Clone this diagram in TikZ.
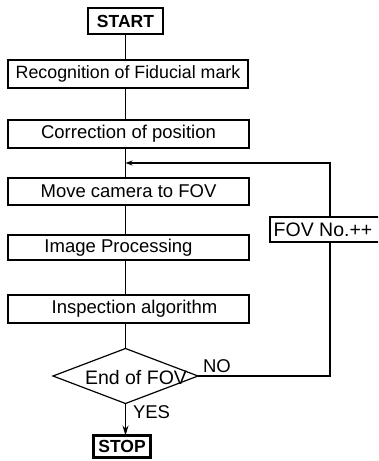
\documentclass[tikz,border=0pt]{standalone}
\usepackage{fontspec}
\setmainfont{Liberation Sans}
\usetikzlibrary{shapes.geometric,arrows.meta}
\begin{document}
\begin{tikzpicture}[x=1pt,y=-1pt,
  every node/.style={inner sep=0pt,outer sep=0pt},
  box/.style={draw,line width=1.2pt,minimum width=241pt,font=\fontsize{18.5}{20}\selectfont},
  term/.style={draw,line width=2.6pt,font=\bfseries\fontsize{17.5}{19}\selectfont},
  conn/.style={line width=1.2pt},
  lbl/.style={font=\fontsize{18.5}{20}\selectfont}]
\useasboundingbox (0,0) rectangle (378,461);
\clip (0,0) rectangle (378,461);
\coordinate (main) at (125.5,0);
\coordinate (lp) at (330,0);
\node[term,minimum width=75pt,minimum height=26pt] (start) at (125.5,21) {START};
\node[box,minimum width=240pt,minimum height=28pt,font=\fontsize{17.8}{20}\selectfont] (rec) at (128,74) {Recognition of Fiducial mark};
\node[box,minimum height=28pt] (cor) at (128.5,134) {Correction of position};
\node[box,minimum height=27pt] (mov) at (128.5,191.5) {Move camera to FOV};
\node[box,minimum height=25pt] (img) at (128.5,247.5) {\hspace*{-20pt}Image Processing};
\node[box,minimum height=28pt] (ins) at (128.5,309) {\hspace*{12pt}Inspection algorithm};
\node[draw,diamond,line width=1.2pt,minimum width=145pt,minimum height=55pt,shape aspect=2.64] (dia) at (125.5,376) {};
\node[lbl,font=\fontsize{19.5}{20}\selectfont] (diatxt) at (136,378) {End of FOV};
\node[term,minimum width=57pt,minimum height=22pt] (stop) at (122,446.5) {STOP};
\node[draw,line width=1.2pt,minimum width=112pt,minimum height=25pt,font=\fontsize{19.5}{20}\selectfont] (fov) at (326,229.5) {\hspace*{-6pt}FOV No.++};
\coordinate (merge) at (125.5,163);
\node[lbl,anchor=south west] (no) at (203,373) {NO};
\node[lbl,anchor=north west] (yes) at (133,406) {YES};
\draw[conn] (start.south -| main) -- (rec.north -| main);
\draw[conn] (rec.south -| main) -- (cor.north -| main);
\draw[conn] (cor.south -| main) -- (mov.north -| main);
\draw[conn] (mov.south -| main) -- (img.north -| main);
\draw[conn] (img.south -| main) -- (ins.north -| main);
\draw[conn] (ins.south -| main) -- (dia.north);
\draw[conn,-{Stealth[length=10pt,width=6pt]}] (dia.south) -- (stop.north -| main);
\draw[conn] (dia.east) -- (dia.east -| lp) -- (fov.south -| lp);
\draw[conn,-{Stealth[length=7pt,width=5pt]}] (fov.north -| lp) |- (merge);
\end{tikzpicture}
\end{document}
